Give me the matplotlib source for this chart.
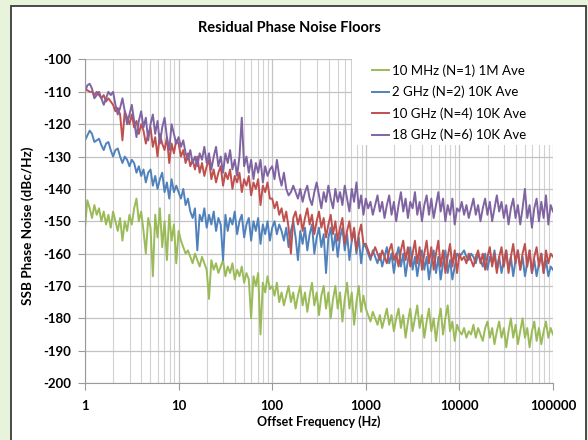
import numpy as np
import matplotlib.pyplot as plt
from matplotlib.patches import Rectangle

plt.rcParams['font.family'] = ['Lato', 'DejaVu Sans']

# 40 points per decade, 1 Hz .. 100 kHz
freq = np.logspace(0, 5, 201)
decades = [1, 10, 100, 1000, 10000]

# values (dBc/Hz), 4 rows per decade
green = [
    -152, -143.5, -146, -149, -145, -148, -146, -150, -147, -151,
    -148, -152, -147, -150, -153, -149, -156, -150, -153, -148,
    -151, -146, -143, -150, -147, -153, -160, -149, -152, -167,
    -148, -155, -146, -158, -150, -162, -148, -156, -151, -163,
    -153, -156, -158, -160, -159, -161, -163, -160, -162, -164,
    -161, -163, -165, -174, -162, -165, -163, -166, -164, -162,
    -167, -164, -166, -163, -168, -165, -167, -164, -169, -166,
    -168, -180, -167, -170, -166, -185, -169, -172, -167, -171,
    -170, -173, -169, -175, -172, -176, -173, -170, -175, -172,
    -177, -173, -170, -176, -172, -178, -173, -169, -176, -172,
    -179, -173, -170, -177, -172, -180, -174, -170, -177, -172,
    -181, -174, -169, -177, -172, -182, -175, -170, -178, -173,
    -177, -179, -181, -178, -180, -182, -179, -183, -180, -177,
    -182, -179, -184, -180, -177, -183, -179, -186, -181, -177,
    -184, -180, -176, -183, -179, -186, -181, -177, -184, -180,
    -187, -181, -177, -185, -180, -176, -184, -181, -187, -182,
    -184, -185, -183, -186, -184, -185, -182, -186, -183, -185,
    -187, -183, -181, -186, -183, -188, -184, -181, -186, -183,
    -189, -184, -180, -186, -182, -188, -184, -180, -186, -183,
    -189, -184, -181, -187, -183, -188, -184, -181, -186, -183,
    -185,
]
blue = [
    -125, -123.5, -122, -123, -125.5, -125, -124.5, -126.5, -128, -126,
    -125.5, -128, -130, -128, -127.5, -130, -132, -130, -131, -133,
    -131, -132, -135, -133, -136, -134, -138, -135, -134, -139,
    -136, -140, -137, -135, -141, -138, -143, -137, -141, -139,
    -141, -143, -140, -145, -143, -147, -149, -146, -159, -148,
    -150, -146, -152, -148, -151, -147, -153, -149, -151, -162,
    -148, -153, -149, -151, -147, -154, -150, -148, -155, -151,
    -149, -156, -150, -153, -149, -157, -151, -154, -150, -156,
    -152, -150, -154, -151, -153, -156, -152, -158, -153, -150,
    -155, -162, -153, -157, -152, -159, -154, -151, -160, -155,
    -152, -158, -154, -166, -155, -152, -159, -154, -161, -155,
    -152, -159, -154, -162, -156, -153, -160, -155, -163, -157,
    -158, -160, -162, -159, -161, -163, -160, -164, -161, -158,
    -163, -160, -166, -161, -158, -164, -160, -167, -162, -158,
    -165, -161, -167, -162, -159, -165, -161, -168, -163, -159,
    -166, -161, -168, -163, -159, -166, -162, -168, -164, -160,
    -161, -160, -159, -161, -162, -160, -161, -163, -160, -162,
    -164, -160, -165, -161, -163, -159, -165, -161, -166, -162,
    -159, -165, -161, -167, -162, -159, -165, -161, -167, -163,
    -159, -166, -162, -167, -163, -160, -166, -162, -167, -164,
    -165,
]
red = [
    -109, -109.5, -110, -110, -111, -110, -111, -112, -111, -113,
    -112, -113, -114, -116, -115, -117, -125, -116, -118, -120,
    -117, -121, -119, -123, -120, -122, -126, -123, -121, -127,
    -124, -130, -123, -126, -128, -124, -132, -126, -129, -125,
    -126, -130, -128, -132, -129, -133, -131, -134, -130, -135,
    -132, -136, -133, -131, -137, -134, -138, -135, -133, -139,
    -135, -137, -134, -140, -136, -138, -135, -141, -137, -139,
    -136, -142, -138, -140, -137, -145, -139, -141, -138, -143,
    -143, -146, -144, -148, -146, -150, -147, -152, -160, -149,
    -147, -151, -148, -153, -149, -146, -151, -148, -154, -150,
    -147, -152, -149, -155, -151, -148, -154, -150, -156, -152,
    -149, -157, -153, -150, -156, -152, -159, -154, -151, -157,
    -157, -159, -161, -160, -158, -160, -162, -159, -161, -163,
    -159, -157, -162, -160, -164, -159, -156, -162, -158, -164,
    -160, -156, -163, -158, -165, -160, -156, -163, -158, -165,
    -160, -156, -164, -159, -166, -161, -157, -164, -159, -166,
    -160, -162, -161, -163, -160, -162, -164, -161, -159, -163,
    -160, -165, -161, -158, -164, -160, -166, -161, -158, -164,
    -159, -166, -161, -157, -163, -159, -165, -160, -157, -164,
    -159, -166, -161, -158, -164, -160, -166, -159, -163, -160,
    -161,
]
purple = [
    -110, -108, -107.5, -109, -112, -111, -110, -112, -114, -112,
    -110, -111, -110, -114, -117, -115, -112, -116, -120, -117,
    -114, -119, -124, -119, -116, -121, -118, -125, -120, -117,
    -123, -119, -126, -121, -118, -124, -128, -120, -123, -126,
    -124, -127, -125, -129, -131, -128, -132, -130, -133, -129,
    -131, -127, -132, -129, -134, -130, -127, -133, -130, -135,
    -129, -132, -128, -134, -131, -136, -130, -118, -133, -130,
    -135, -131, -137, -132, -135, -131, -138, -133, -136, -134,
    -133, -137, -131, -136, -139, -135, -140, -142, -141, -139,
    -141, -143, -140, -144, -141, -139, -143, -145, -141, -138,
    -142, -146, -141, -144, -139, -143, -146, -140, -144, -141,
    -145, -139, -143, -147, -140, -144, -138, -146, -142, -148,
    -143, -146, -144, -148, -145, -142, -147, -144, -149, -145,
    -142, -148, -144, -150, -145, -141, -147, -143, -149, -144,
    -146, -141, -148, -144, -150, -145, -142, -148, -143, -149,
    -145, -141, -147, -143, -150, -145, -148, -143, -151, -146,
    -147, -144, -148, -145, -149, -146, -143, -148, -145, -150,
    -146, -143, -148, -144, -150, -146, -142, -147, -144, -149,
    -145, -151, -146, -143, -149, -145, -151, -146, -140, -149,
    -145, -152, -146, -143, -150, -144, -149, -142, -151, -145,
    -147,
]

series = [
    ('10 MHz (N=1) 1M Ave', green, '#9bbb59'),
    ('2 GHz (N=2) 10K Ave', blue, '#4f81bd'),
    ('10 GHz (N=4) 10K Ave', red, '#c0504d'),
    ('18 GHz (N=6) 10K Ave', purple, '#8064a2'),
]

x_ticks = [1, 10, 100, 1000, 10000, 100000]
y_ticks = list(range(-200, -99, 10))

fig = plt.figure(figsize=(5.88, 4.4), dpi=100, facecolor='#e8f3dc')
fig.patches.append(Rectangle((11 / 588, -0.02), 575 / 588, 1.006, transform=fig.transFigure,
                             facecolor='white', edgecolor='#3c3c3c', linewidth=1.3, zorder=-10))

ax = fig.add_axes([85 / 588, 1 - 383 / 440, 468 / 588, 323.5 / 440])
ax.set_facecolor('white')

for label, vals, col in series:
    ax.plot(freq, vals, color=col, lw=1.4, label=label)

ax.set_xscale('log')
ax.set_xlim(1, 100000)
ax.set_ylim(-200, -100)
ax.set_xticks(x_ticks)
ax.set_xticklabels([str(t) for t in x_ticks])
minor = [m * d for d in decades for m in range(2, 10)]
ax.set_xticks(minor, minor=True)
ax.set_yticks(y_ticks)
ax.set_yticklabels([str(t) for t in y_ticks])

ax.grid(True, which='major', color='#c3c3c3', lw=0.9)
ax.grid(True, which='minor', axis='x', color='#d2d2d2', lw=0.8)
ax.set_axisbelow(True)
for s in ['top', 'right']:
    ax.spines[s].set_visible(False)
for s in ['left', 'bottom']:
    ax.spines[s].set_color('#9a9a9a')
ax.tick_params(which='major', length=5, color='#9a9a9a', labelsize=9.5)
ax.tick_params(axis='x', which='major', pad=7)
ax.tick_params(axis='y', which='major', pad=5)
ax.tick_params(which='minor', length=0)
for t in ax.get_xticklabels() + ax.get_yticklabels():
    t.set_fontweight('bold')

# white legend area hides the grid behind it
ax.add_patch(Rectangle((267 / 468, 238 / 323.5), 201 / 468, 85.5 / 323.5, transform=ax.transAxes,
                       facecolor='white', edgecolor='none', zorder=1.5))

fig.text(289 / 588, 1 - 28 / 440, 'Residual Phase Noise Floors', ha='center', va='center',
         fontsize=10.5, fontweight='bold')
fig.text(28 / 588, 1 - 226 / 440, 'SSB Phase Noise (dBc/Hz)', ha='center', va='center',
         rotation=90, fontsize=9.7, fontweight='bold')
fig.text(319 / 588, 1 - 422 / 440, 'Offset Frequency (Hz)', ha='center', va='center',
         fontsize=9, fontweight='bold')

ax.legend(loc='upper left', bbox_to_anchor=(280 / 468, 1.006), borderaxespad=0, fontsize=9.5,
          handlelength=1.3, handletextpad=0.25, labelspacing=0.68, borderpad=0.5,
          frameon=False)

fig.savefig('out.png', dpi=100, facecolor=fig.get_facecolor())
